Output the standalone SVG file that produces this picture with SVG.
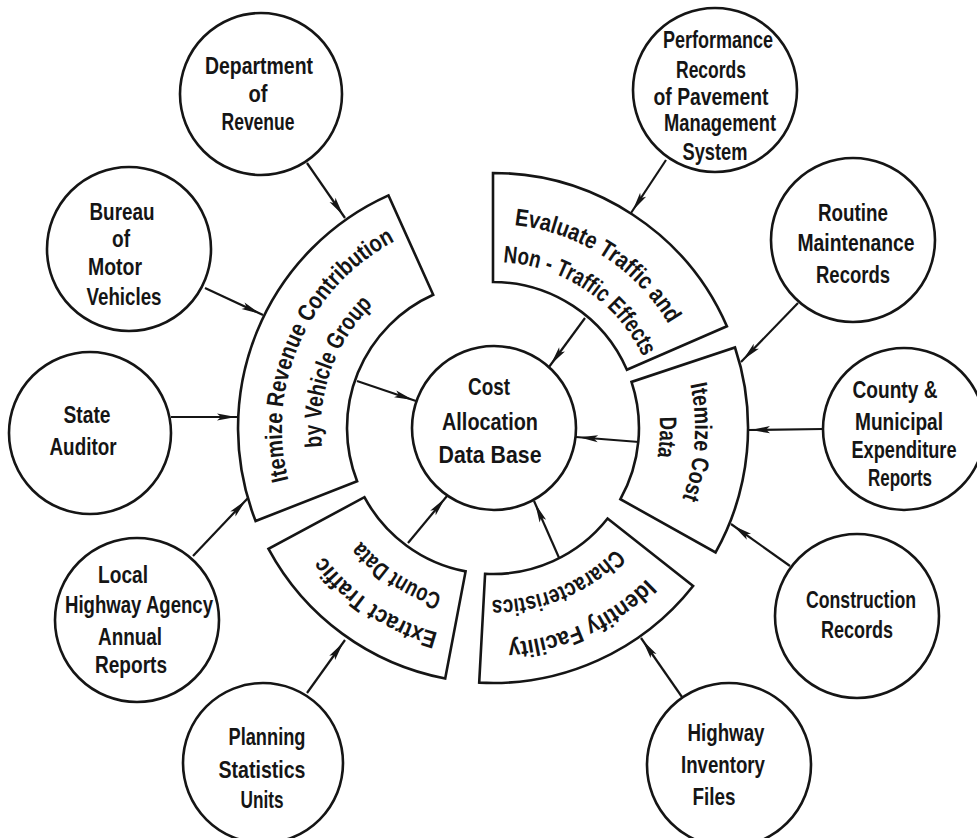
<svg xmlns="http://www.w3.org/2000/svg" xmlns:xlink="http://www.w3.org/1999/xlink" width="977" height="838" viewBox="0 0 977 838">
<style>
.shape{fill:#fff;stroke:#151515;stroke-width:2.6}
.con{fill:none;stroke:#151515;stroke-width:2.2;marker-end:url(#ah)}
text{font-family:"Liberation Sans",Arial,sans-serif;font-weight:bold;font-size:24px;fill:#151515}
.n text{text-anchor:middle}
</style>
<defs>
<marker id="ah" viewBox="0 0 24 8" refX="22" refY="4" markerWidth="24" markerHeight="8" markerUnits="userSpaceOnUse" orient="auto" overflow="visible">
<path d="M0,0.4 L19,4 L0,7.6 L4,4 Z" fill="#151515"/>
</marker>
<path id="t-ir1" d="M288.5,480.1 A211,211 0 0 1 394.6,241.4"/>
<path id="t-ir2" d="M322,446.9 A172,172 0 0 1 372.9,304.9"/>
<path id="t-ev1" d="M514.3,225.1 A204,204 0 0 1 668.8,324.5"/>
<path id="t-ev2" d="M503.1,262.3 A166,166 0 0 1 642.8,356.5"/>
<path id="t-ic1" d="M690.2,384.3 A202,202 0 0 1 682.2,498.7"/>
<path id="t-ic2" d="M659.6,416.9 A167,167 0 0 1 657.5,457"/>
<path id="t-id1" d="M646.4,578.7 A215,215 0 0 1 508,642.5"/>
<path id="t-id2" d="M615.7,548.6 A172,172 0 0 1 491.5,600"/>
<path id="t-ex1" d="M438.1,632.8 A212,212 0 0 1 323.7,555.6"/>
<path id="t-ex2" d="M442.1,594.4 A174,174 0 0 1 360.7,541"/>
</defs>
<rect width="977" height="838" fill="#fff"/>

<g id="connectors">
<line class="con" x1="307" y1="163" x2="345" y2="218"/>
<line class="con" x1="205" y1="288" x2="263" y2="315"/>
<line class="con" x1="171" y1="417" x2="239" y2="417"/>
<line class="con" x1="193" y1="556" x2="248" y2="498"/>
<line class="con" x1="357" y1="381" x2="416" y2="401"/>
<line class="con" x1="408" y1="543" x2="447" y2="496"/>
<line class="con" x1="307" y1="693" x2="345" y2="640"/>
<line class="con" x1="560" y1="560" x2="534" y2="501"/>
<line class="con" x1="682" y1="697" x2="641" y2="638"/>
<line class="con" x1="790" y1="566" x2="731" y2="524"/>
<line class="con" x1="823" y1="429" x2="748" y2="430"/>
<line class="con" x1="639" y1="442" x2="576" y2="437"/>
<line class="con" x1="798" y1="303" x2="741" y2="362"/>
<line class="con" x1="666" y1="160" x2="631" y2="213"/>
<line class="con" x1="585" y1="318" x2="549" y2="367"/>
</g>

<g id="sector-itemize-revenue">
<path class="shape" d="M255.6,521 A255,255 0 0 1 388.5,195.4 L433.2,294.8 A146,146 0 0 0 357.1,481.3 Z"/>
<text textLength="282" lengthAdjust="spacingAndGlyphs"><textPath xlink:href="#t-ir1">Itemize Revenue Contribution</textPath></text>
<text textLength="156" lengthAdjust="spacingAndGlyphs"><textPath xlink:href="#t-ir2">by Vehicle Group</textPath></text>
</g>
<g id="sector-evaluate">
<path class="shape" d="M493,173 A255,255 0 0 1 726.9,326.3 L626.9,369.8 A146,146 0 0 0 493,282 Z"/>
<text textLength="190" lengthAdjust="spacingAndGlyphs"><textPath xlink:href="#t-ev1">Evaluate Traffic and</textPath></text>
<text textLength="177" lengthAdjust="spacingAndGlyphs"><textPath xlink:href="#t-ev2">Non - Traffic Effects</textPath></text>
</g>
<g id="sector-itemize-cost">
<path class="shape" d="M735,347.5 A255,255 0 0 1 715.6,552.4 L620.4,499.2 A146,146 0 0 0 631.5,381.9 Z"/>
<text textLength="116" lengthAdjust="spacingAndGlyphs"><textPath xlink:href="#t-ic1">Itemize Cost</textPath></text>
<text textLength="40" lengthAdjust="spacingAndGlyphs"><textPath xlink:href="#t-ic2">Data</textPath></text>
</g>
<g id="sector-identify">
<path class="shape" d="M693.1,586 A255,255 0 0 1 479.2,682.6 L485.1,573.8 A146,146 0 0 0 607.6,518.5 Z"/>
<text textLength="156" lengthAdjust="spacingAndGlyphs"><textPath xlink:href="#t-id1">Identify Facility</textPath></text>
<text textLength="138" lengthAdjust="spacingAndGlyphs"><textPath xlink:href="#t-id2">Characteristics</textPath></text>
</g>
<g id="sector-extract">
<path class="shape" d="M445.2,678.5 A255,255 0 0 1 268.5,548.9 L364.4,497.2 A146,146 0 0 0 465.6,571.4 Z"/>
<text textLength="140" lengthAdjust="spacingAndGlyphs"><textPath xlink:href="#t-ex1">Extract Traffic</textPath></text>
<text textLength="98" lengthAdjust="spacingAndGlyphs"><textPath xlink:href="#t-ex2">Count Data</textPath></text>
</g>

<g id="node-center" class="n">
<circle class="shape" cx="494" cy="428" r="82"/>
<text x="489" y="395" textLength="42" lengthAdjust="spacingAndGlyphs">Cost</text>
<text x="490" y="430" textLength="96" lengthAdjust="spacingAndGlyphs">Allocation</text>
<text x="490" y="463" textLength="103" lengthAdjust="spacingAndGlyphs">Data Base</text>
</g>
<g id="node-department" class="n">
<circle class="shape" cx="261" cy="94" r="81"/>
<text x="259" y="74" textLength="108" lengthAdjust="spacingAndGlyphs">Department</text>
<text x="258" y="102" textLength="19" lengthAdjust="spacingAndGlyphs">of</text>
<text x="258" y="130" textLength="73" lengthAdjust="spacingAndGlyphs">Revenue</text>
</g>
<g id="node-bureau" class="n">
<circle class="shape" cx="129" cy="249" r="82"/>
<text x="122" y="220" textLength="65" lengthAdjust="spacingAndGlyphs">Bureau</text>
<text x="121" y="247" textLength="18" lengthAdjust="spacingAndGlyphs">of</text>
<text x="115" y="275" textLength="54" lengthAdjust="spacingAndGlyphs">Motor</text>
<text x="124" y="305" textLength="75" lengthAdjust="spacingAndGlyphs">Vehicles</text>
</g>
<g id="node-state" class="n">
<circle class="shape" cx="90" cy="433" r="81"/>
<text x="87" y="423" textLength="47" lengthAdjust="spacingAndGlyphs">State</text>
<text x="83" y="455" textLength="67" lengthAdjust="spacingAndGlyphs">Auditor</text>
</g>
<g id="node-local" class="n">
<circle class="shape" cx="137" cy="620" r="82"/>
<text x="123" y="583" textLength="50" lengthAdjust="spacingAndGlyphs">Local</text>
<text x="139" y="613" textLength="148" lengthAdjust="spacingAndGlyphs">Highway Agency</text>
<text x="130" y="645" textLength="64" lengthAdjust="spacingAndGlyphs">Annual</text>
<text x="131" y="673" textLength="72" lengthAdjust="spacingAndGlyphs">Reports</text>
</g>
<g id="node-planning" class="n">
<circle class="shape" cx="263" cy="763" r="80"/>
<text x="267" y="745" textLength="77" lengthAdjust="spacingAndGlyphs">Planning</text>
<text x="262" y="778" textLength="87" lengthAdjust="spacingAndGlyphs">Statistics</text>
<text x="262" y="808" textLength="43" lengthAdjust="spacingAndGlyphs">Units</text>
</g>
<g id="node-highway" class="n">
<circle class="shape" cx="729" cy="765" r="82"/>
<text x="726" y="741" textLength="77" lengthAdjust="spacingAndGlyphs">Highway</text>
<text x="723" y="773" textLength="84" lengthAdjust="spacingAndGlyphs">Inventory</text>
<text x="714" y="805" textLength="43" lengthAdjust="spacingAndGlyphs">Files</text>
</g>
<g id="node-construction" class="n">
<circle class="shape" cx="857" cy="616" r="82"/>
<text x="861" y="608" textLength="110" lengthAdjust="spacingAndGlyphs">Construction</text>
<text x="857" y="638" textLength="72" lengthAdjust="spacingAndGlyphs">Records</text>
</g>
<g id="node-county" class="n">
<circle class="shape" cx="904" cy="429" r="81"/>
<text x="895" y="398" textLength="85" lengthAdjust="spacingAndGlyphs">County &amp;</text>
<text x="899" y="430" textLength="88" lengthAdjust="spacingAndGlyphs">Municipal</text>
<text x="904" y="458" textLength="105" lengthAdjust="spacingAndGlyphs">Expenditure</text>
<text x="900" y="486" textLength="64" lengthAdjust="spacingAndGlyphs">Reports</text>
</g>
<g id="node-routine" class="n">
<circle class="shape" cx="853" cy="240" r="82"/>
<text x="853" y="221" textLength="70" lengthAdjust="spacingAndGlyphs">Routine</text>
<text x="856" y="251" textLength="117" lengthAdjust="spacingAndGlyphs">Maintenance</text>
<text x="853" y="283" textLength="74" lengthAdjust="spacingAndGlyphs">Records</text>
</g>
<g id="node-performance" class="n">
<circle class="shape" cx="715" cy="90" r="82"/>
<text x="718" y="48" textLength="110" lengthAdjust="spacingAndGlyphs">Performance</text>
<text x="711" y="78" textLength="70" lengthAdjust="spacingAndGlyphs">Records</text>
<text x="711" y="105" textLength="115" lengthAdjust="spacingAndGlyphs">of Pavement</text>
<text x="720" y="131" textLength="112" lengthAdjust="spacingAndGlyphs">Management</text>
<text x="715" y="160" textLength="65" lengthAdjust="spacingAndGlyphs">System</text>
</g>
</svg>
